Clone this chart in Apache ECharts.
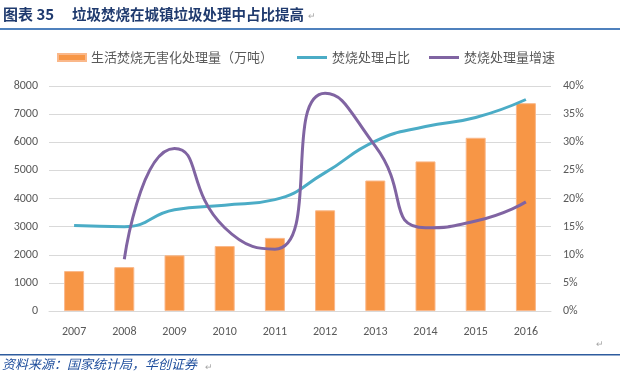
<!DOCTYPE html>
<html>
<head>
<meta charset="utf-8">
<script src="https://cdn.jsdelivr.net/npm/echarts@6/dist/echarts.min.js"></script>
<style>
  html, body { margin: 0; padding: 0; background: #fff; }
  #echart { width: 620px; height: 377px; }
</style>
</head>
<body>
<div id="echart"></div>
<script>
const years = ["2007", "2008", "2009", "2010", "2011", "2012", "2013", "2014", "2015", "2016"];
// 生活焚烧无害化处理量（万吨）
const volume = [1420, 1560, 1980, 2310, 2600, 3580, 4640, 5320, 6160, 7390];
// 焚烧处理占比 (%)
const share = [15.2, 15.0, 18.0, 18.8, 19.8, 24.6, 30.2, 32.8, 34.4, 37.6];
// 焚烧处理量增速 (%)
const growth = [null, 9.2, 28.9, 14.8, 11.0, 38.7, 29.3, 14.8, 16.0, 19.4];
const leftTicks = { min: 0, max: 8000, interval: 1000 };
const rightTicks = { min: 0, max: 40, interval: 5 };

const seriesNames = ["生活焚烧无害化处理量（万吨）", "焚烧处理占比", "焚烧处理量增速"];
const labelFont = "Calibri, Carlito, 'Liberation Sans', 'Noto Sans CJK SC', sans-serif";
const cjkFont = "'Noto Sans CJK SC', sans-serif";

let chart = echarts.init(document.getElementById("echart"));

const legendBase = {
  top: 46,
  textStyle: { color: "#595959", fontSize: 13, fontFamily: cjkFont },
  itemGap: 10,
};

const option = {
  animation: false,
  grid: { left: 49, width: 502, top: 86, height: 225 },
  legend: [
    Object.assign({}, legendBase, {
      left: 52, data: [seriesNames[0]], icon: "rect", itemWidth: 28, itemHeight: 7,
    }),
    Object.assign({}, legendBase, {
      left: 292, data: [seriesNames[1]], icon: "rect", itemWidth: 30, itemHeight: 3,
    }),
    Object.assign({}, legendBase, {
      left: 424, data: [seriesNames[2]], icon: "rect", itemWidth: 30, itemHeight: 3,
    }),
  ],
  xAxis: {
    type: "category",
    data: years,
    axisLine: { lineStyle: { color: "#D9D9D9", width: 1 } },
    axisTick: { show: false },
    axisLabel: { color: "#595959", fontSize: 12, fontFamily: labelFont, margin: 15 },
  },
  yAxis: [
    {
      type: "value",
      min: leftTicks.min, max: leftTicks.max, interval: leftTicks.interval,
      axisLine: { show: false },
      axisTick: { show: false },
      axisLabel: {
        color: "#595959", fontSize: 12, fontFamily: labelFont, margin: 11,
        formatter: (v) => String(v),
      },
      splitLine: { lineStyle: { color: "#D9D9D9", width: 1 } },
    },
    {
      type: "value",
      min: rightTicks.min, max: rightTicks.max, interval: rightTicks.interval,
      axisLine: { show: false },
      axisTick: { show: false },
      axisLabel: { color: "#595959", fontSize: 12, fontFamily: labelFont, margin: 12, formatter: "{value}%" },
      splitLine: { show: false },
    },
  ],
  series: [
    {
      name: seriesNames[0],
      type: "bar",
      data: volume,
      barWidth: 20,
      itemStyle: { color: "#F79646", borderColor: "#FAB88A", borderWidth: 1 },
    },
    {
      name: seriesNames[1],
      type: "line",
      yAxisIndex: 1,
      data: share,
      smooth: 0.5,
      showSymbol: false,
      itemStyle: { color: "#4BACC6" },
      lineStyle: { color: "#4BACC6", width: 3 },
    },
    {
      name: seriesNames[2],
      type: "line",
      yAxisIndex: 1,
      data: growth,
      smooth: 0.6,
      showSymbol: false,
      itemStyle: { color: "#8064A2" },
      lineStyle: { color: "#8064A2", width: 3 },
    },
  ],
  graphic: [
    {
      type: "text", left: 3, top: 7,
      style: { text: "图表 35", fill: "#1F3A6E", font: "bold 15px " + cjkFont },
    },
    {
      type: "text", left: 72, top: 7,
      style: { text: "垃圾焚烧在城镇垃圾处理中占比提高", fill: "#1F3A6E", font: "bold 14.5px " + cjkFont },
    },
    {
      type: "text", left: 308, top: 11,
      style: { text: "↵", fill: "#A6A6A6", font: "9px " + cjkFont },
    },
    {
      type: "rect", shape: { x: 0, y: 28, width: 620, height: 2 },
      style: { fill: "#4F81BD" },
    },
    {
      type: "text", left: 596, top: 339,
      style: { text: "↵", fill: "#A6A6A6", font: "9px " + cjkFont },
    },
    {
      type: "rect", shape: { x: 0, y: 354, width: 620, height: 1.5 },
      style: { fill: "#2E5C9E" },
    },
    {
      type: "text", left: 2, top: 358,
      style: { text: "资料来源：国家统计局，华创证券", fill: "#1F4E9D", font: "italic 13px " + cjkFont },
    },
    {
      type: "text", left: 205, top: 362,
      style: { text: "↵", fill: "#A6A6A6", font: "9px " + cjkFont },
    },
  ],
};

chart.setOption(option);
window.onresize = () => {
  chart.resize();
};
</script>
</body>
</html>
